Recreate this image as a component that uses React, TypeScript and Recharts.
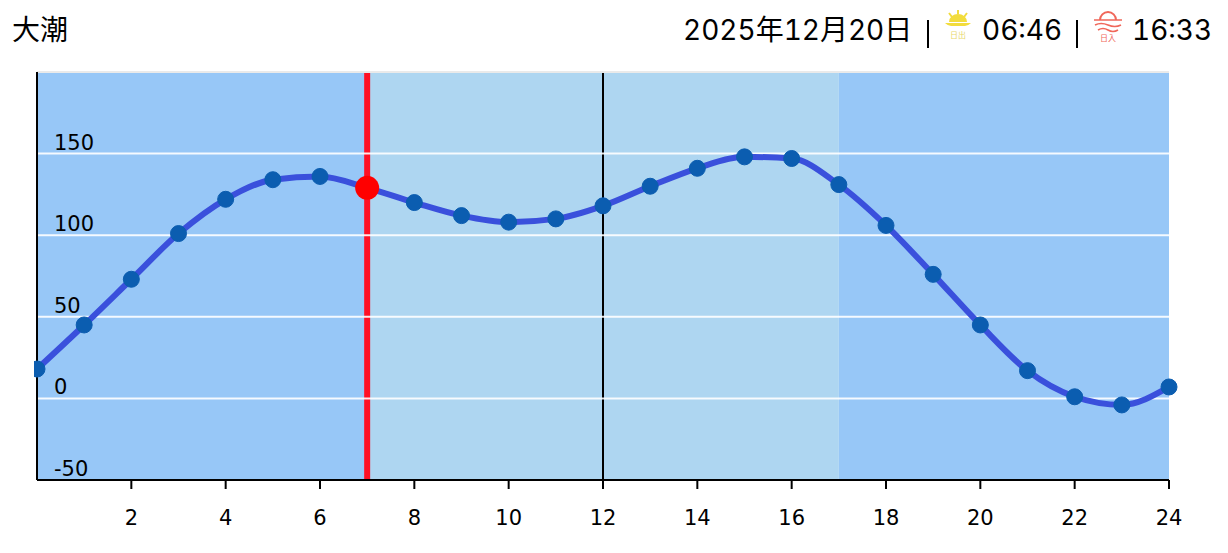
import {
  ComposedChart,
  Line,
  XAxis,
  YAxis,
  ReferenceArea,
  ReferenceLine,
  ReferenceDot,
} from "recharts";

const hours = [0, 1, 2, 3, 4, 5, 6, 7, 8, 9, 10, 11, 12, 13, 14, 15, 16, 17, 18, 19, 20, 21, 22, 23, 24];
const tide = [18, 45, 73, 101, 122, 134, 136, 129, 120, 112, 108, 110, 118, 130, 141, 148, 147, 131, 106, 76, 45, 17, 1, -4, 7];
const xTicks = [2, 4, 6, 8, 10, 12, 14, 16, 18, 20, 22, 24];
const yTicks = [-50, 0, 50, 100, 150];
const gridValues = [0, 50, 100, 150];
const nowHour = 7;
const nowLevel = 129;
const noonHour = 12;
const lightFrom = 7;
const lightTo = 17;

const data = hours.map((h, i) => ({ hour: h, level: tide[i] }));

const AXIS_FONT = "'DejaVu Sans', sans-serif";
const HEAD_FONT = "Inter, 'Noto Sans CJK JP', sans-serif";

// y軸のラベルはプロットの内側、グリッド線の上に置く
const YTick = ({ y, payload }: any) => (
  <text x={20} y={y - 4} fontSize={21} fontFamily={AXIS_FONT} fill="#000" textAnchor="start">
    {payload.value}
  </text>
);

const XTick = ({ x, y, payload }: any) => (
  <text x={x} y={y + 34} fontSize={21} fontFamily={AXIS_FONT} fill="#000" textAnchor="middle">
    {payload.value}
  </text>
);

const headText = (left: number, text: string) => (
  <span
    style={{
      position: "absolute",
      left,
      top: 10,
      fontSize: 28,
      lineHeight: "40px",
      fontFamily: HEAD_FONT,
      fontVariantNumeric: "tabular-nums",
      color: "#000",
      whiteSpace: "nowrap",
    }}
  >
    {text}
  </span>
);

const pipe = (left: number) => (
  <div style={{ position: "absolute", left, top: 20, width: 2, height: 28, background: "#000" }} />
);

const SunriseIcon = () => (
  <svg width={30} height={32} viewBox="0 0 30 32" style={{ position: "absolute", left: 943, top: 9 }}>
    <path d="M6 13 A9 8 0 0 1 24 13 Z" fill="#f2dc3c" />
    <path d="M2 14 H28 Q25 17 22 17 H8 Q5 17 2 14 Z" fill="#f2dc3c" />
    <path d="M15 1 V5 M6 4 L9 8 M24 4 L21 8" stroke="#f2dc3c" strokeWidth={2} />
    <text x={15} y={29} fontSize={8} fill="#e8d86a" textAnchor="middle" fontFamily="'Noto Sans CJK JP'">
      日出
    </text>
  </svg>
);

const SunsetIcon = () => (
  <svg width={30} height={32} viewBox="0 0 30 32" style={{ position: "absolute", left: 1093, top: 10 }}>
    <path d="M7 10 A8 8 0 0 1 23 10" fill="none" stroke="#f0675a" strokeWidth={2} />
    <path d="M1 10 H29 M2 15 Q8 12 15 15 T28 15 M5 20 Q10 17 15 20 T25 20" fill="none" stroke="#f0675a" strokeWidth={1.6} />
    <text x={15} y={31} fontSize={8} fill="#f0675a" textAnchor="middle" fontFamily="'Noto Sans CJK JP'">
      日入
    </text>
  </svg>
);

export default function App() {
  return (
    <div style={{ position: "absolute", left: 0, top: 0, width: 1228, height: 553, background: "#fff", overflow: "hidden" }}>
      {headText(12, "大潮")}
      {headText(683, "2025年12月20日")}
      {pipe(927)}
      <SunriseIcon />
      {headText(982, "06:46")}
      {pipe(1076)}
      <SunsetIcon />
      {headText(1132, "16:33")}
      <div style={{ position: "absolute", left: 34, top: 0 }}>
        <ComposedChart
          width={1194}
          height={553}
          data={data}
          margin={{ top: 72, right: 59, bottom: 0, left: 2 }}
        >
          <ReferenceArea x1={0} x2={lightFrom} y1={-50} y2={200} fill="#97c7f7" fillOpacity={1} stroke="none" />
          <ReferenceArea x1={lightFrom} x2={lightTo} y1={-50} y2={200} fill="#aed6f1" fillOpacity={1} stroke="none" />
          <ReferenceArea x1={lightTo} x2={24} y1={-50} y2={200} fill="#97c7f7" fillOpacity={1} stroke="none" />
          <ReferenceLine x={nowHour} stroke="#ff1024" strokeWidth={6} />
          <ReferenceLine x={noonHour} stroke="#000" strokeWidth={2} />
          <ReferenceLine y={200} stroke="#eaeaea" strokeWidth={2} />
          {/* グリッドは帯の上に出したいので参照線で描く */}
          {gridValues.map((v) => (
            <ReferenceLine key={v} y={v} stroke="#fff" strokeWidth={2} strokeOpacity={0.9} />
          ))}
          <XAxis
            dataKey="hour"
            type="number"
            domain={[0, 24]}
            ticks={xTicks}
            height={73}
            axisLine={{ stroke: "#000", strokeWidth: 2 }}
            tickLine={{ stroke: "#000", strokeWidth: 2 }}
            tickSize={9}
            tick={<XTick />}
            interval={0}
          />
          <YAxis
            type="number"
            domain={[-50, 200]}
            ticks={yTicks}
            width={1}
            axisLine={{ stroke: "#000", strokeWidth: 2 }}
            tickLine={false}
            tick={<YTick />}
            interval={0}
          />
          <Line
            dataKey="level"
            type="monotone"
            stroke="#3a50dc"
            strokeWidth={6}
            dot={{ r: 8, fill: "#0b5db0", stroke: "#0b5db0", strokeWidth: 1 }}
            isAnimationActive={false}
          />
          <ReferenceDot x={nowHour} y={nowLevel} r={12} fill="#ff0000" stroke="none" />
        </ComposedChart>
      </div>
    </div>
  );
}
